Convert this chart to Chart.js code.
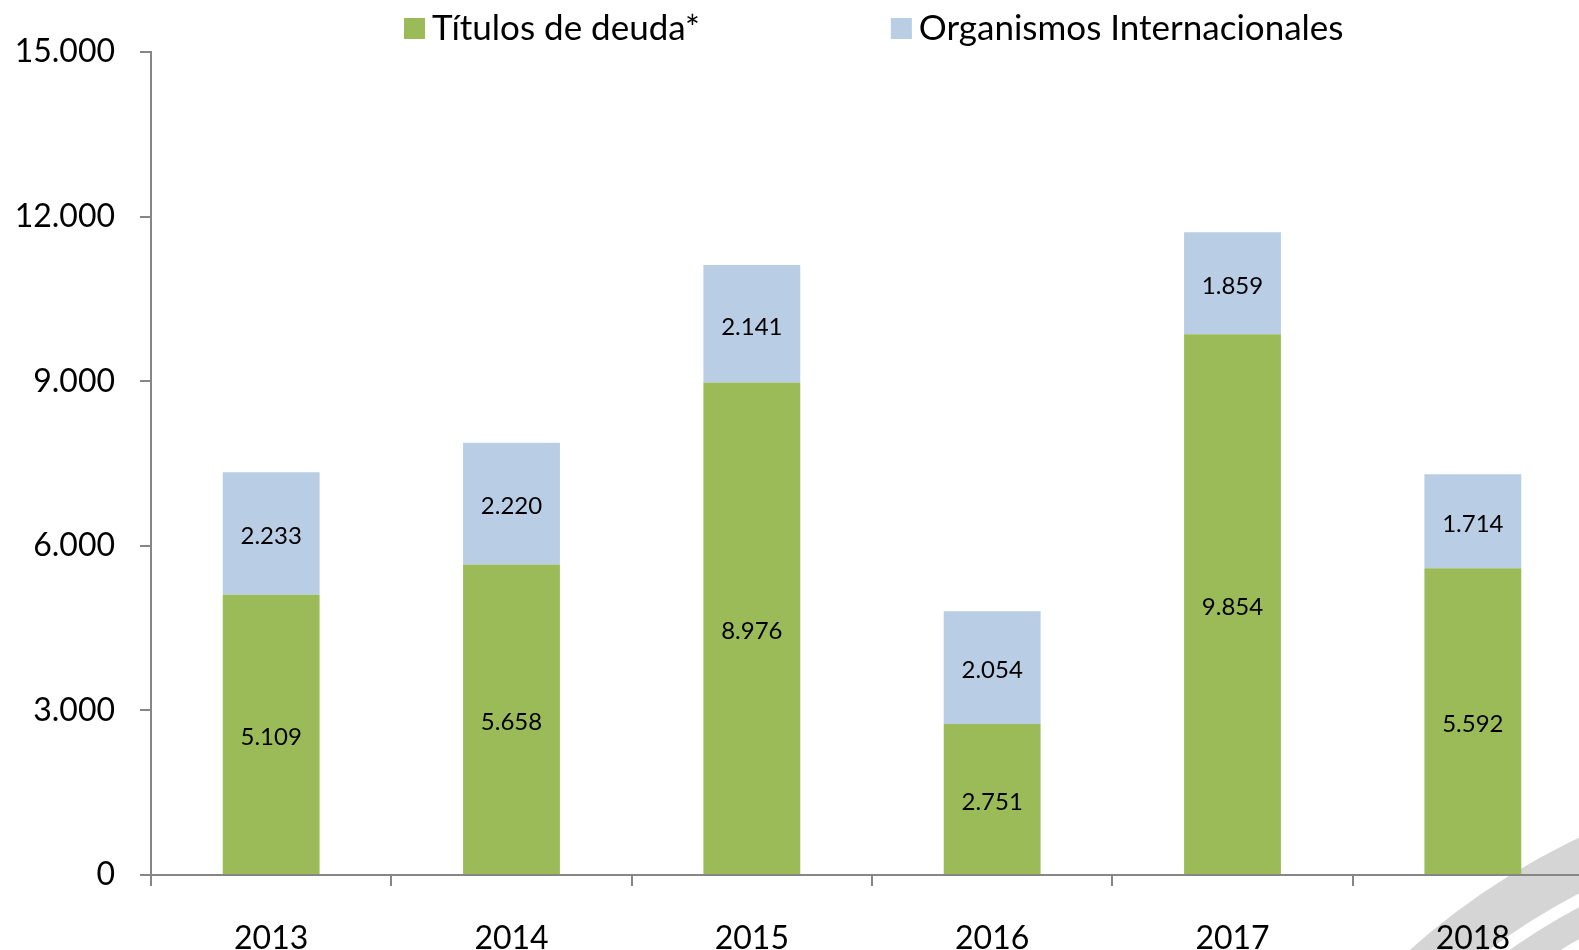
<!DOCTYPE html>
<html>
<head>
<meta charset="utf-8">
<script src="https://cdn.jsdelivr.net/npm/chart.js@4.4.0/dist/chart.umd.min.js"></script>
<style>
  html, body { margin: 0; padding: 0; background: #fff; width: 1579px; height: 950px; overflow: hidden; }
  #wrap { position: absolute; left: 0; top: 0; width: 1600px; height: 1000px; }
</style>
</head>
<body>
<div id="wrap"><canvas id="chart" width="1600" height="1000"></canvas></div>
<script>
// Data
const years = ['2013', '2014', '2015', '2016', '2017', '2018'];
const titulosDeuda = [5109, 5658, 8976, 2751, 9854, 5592];
const organismos = [2233, 2220, 2141, 2054, 1859, 1714];
const seriesNames = ['Títulos de deuda*', 'Organismos Internacionales'];
const yMax = 15000;
const yStep = 3000;

const GREEN = '#9bbb59';
const BLUE = '#b9cde5';
const AXIS = '#868686';
const FONT = 'Lato';

// 5109 -> "5.109"
function fmt(v) {
    return String(v).replace(/\B(?=(\d{3})+(?!\d))/g, '.');
}

// grey rings in the lower right corner (background decoration)
const watermark = {
    id: 'watermark',
    beforeDraw(chart) {
        const ctx = chart.ctx;
        ctx.save();
        ctx.strokeStyle = '#d5d5d5';
        ctx.lineWidth = 50;
        ctx.beginPath();
        ctx.arc(1895, 1498, 707, 0, Math.PI * 2);
        ctx.stroke();
        ctx.lineWidth = 28;
        ctx.beginPath();
        ctx.arc(1895, 1498, 656, 0, Math.PI * 2);
        ctx.stroke();
        ctx.restore();
    }
};

// value printed in the middle of each segment
const barLabels = {
    id: 'barLabels',
    afterDatasetsDraw(chart) {
        const ctx = chart.ctx;
        ctx.save();
        ctx.font = '24px ' + FONT;
        ctx.fillStyle = '#000';
        ctx.textAlign = 'center';
        ctx.textBaseline = 'middle';
        chart.data.datasets.forEach((ds, i) => {
            chart.getDatasetMeta(i).data.forEach((bar, j) => {
                ctx.fillText(fmt(ds.data[j]), bar.x, (bar.y + bar.base) / 2 + 3);
            });
        });
        ctx.restore();
    }
};

// legend along the top, squares + labels
const topLegend = {
    id: 'topLegend',
    afterDraw(chart) {
        const ctx = chart.ctx;
        ctx.save();
        ctx.font = '35px ' + FONT;
        ctx.textBaseline = 'alphabetic';
        let x = 404;
        chart.data.datasets.forEach(ds => {
            ctx.fillStyle = ds.backgroundColor;
            ctx.fillRect(x, 18, 21, 21);
            ctx.fillStyle = '#000';
            ctx.fillText(ds.label, x + 28, 40);
            x += 28 + ctx.measureText(ds.label).width + 191;
        });
        ctx.restore();
    }
};

const ctx = document.getElementById('chart').getContext('2d');
new Chart(ctx, {
    type: 'bar',
    data: {
        labels: years,
        datasets: [
            { label: seriesNames[0], data: titulosDeuda, backgroundColor: GREEN },
            { label: seriesNames[1], data: organismos, backgroundColor: BLUE }
        ]
    },
    options: {
        responsive: false,
        animation: false,
        devicePixelRatio: 1,
        categoryPercentage: 1,
        barPercentage: 0.403,
        layout: { padding: { top: 52, right: 7, left: 0, bottom: 0 } },
        plugins: {
            legend: { display: false },
            tooltip: { enabled: false }
        },
        scales: {
            x: {
                stacked: true,
                grid: { offset: true, drawOnChartArea: false, tickLength: 11, color: AXIS, lineWidth: 2 },
                border: { color: AXIS, width: 2 },
                ticks: { color: '#000', font: { family: FONT, size: 32 }, padding: 33 },
                afterFit(s) { s.height = 125; }
            },
            y: {
                stacked: true,
                min: 0,
                max: yMax,
                grid: { drawOnChartArea: false, tickLength: 11, color: AXIS, lineWidth: 2 },
                border: { color: AXIS, width: 2 },
                ticks: {
                    stepSize: yStep,
                    color: '#000',
                    font: { family: FONT, size: 32 },
                    padding: 25,
                    callback: v => fmt(v)
                },
                afterFit(s) { s.width = 151; }
            }
        }
    },
    plugins: [watermark, barLabels, topLegend]
});
</script>
</body>
</html>
